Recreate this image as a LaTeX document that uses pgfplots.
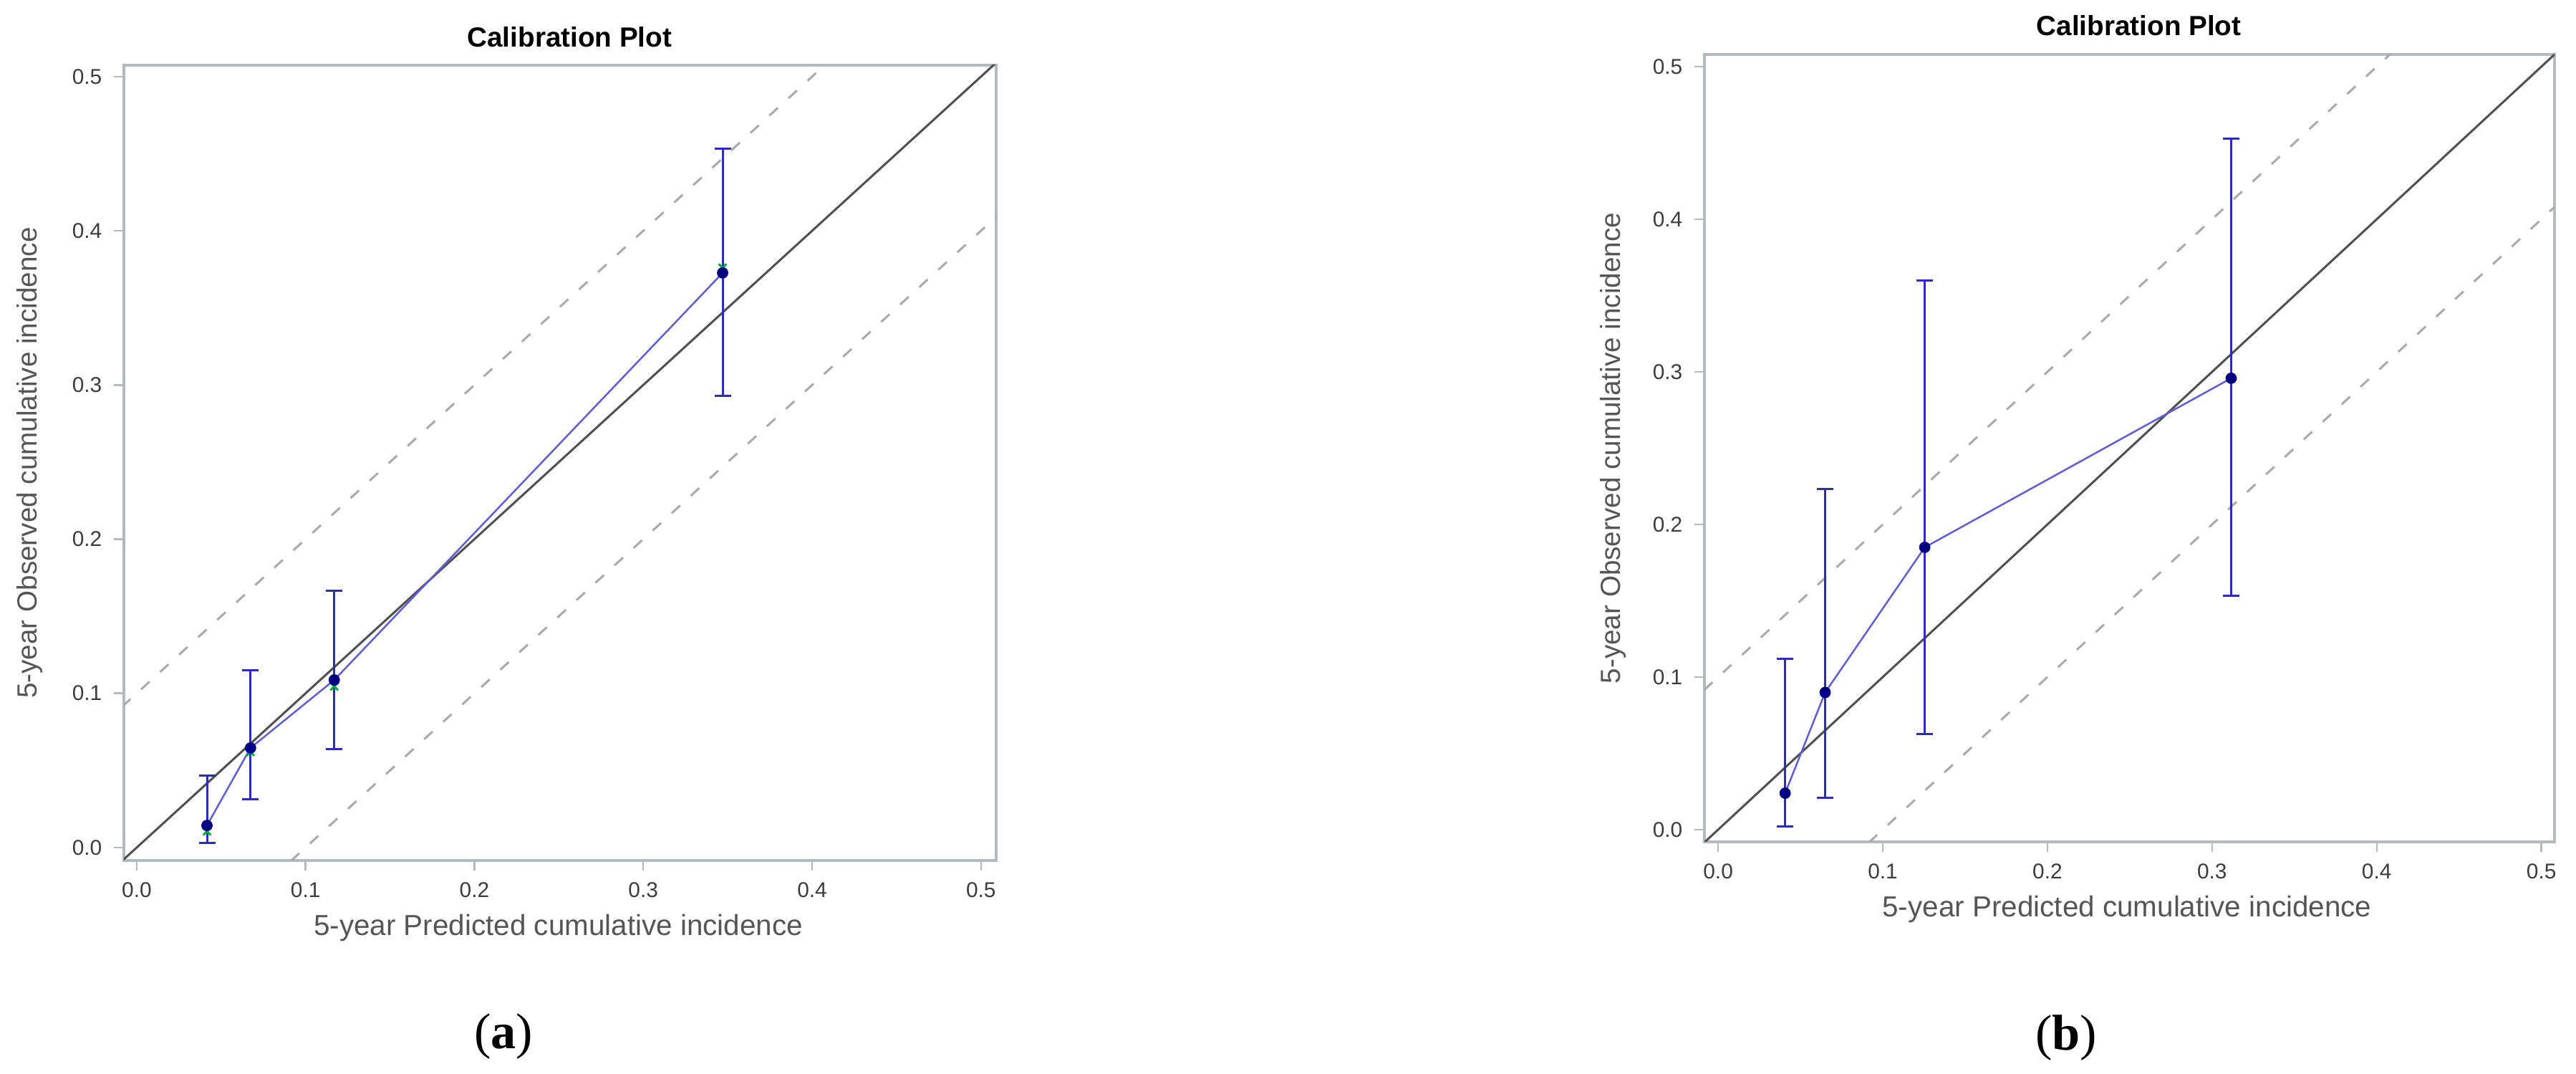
\documentclass[border=0pt]{standalone}
\usepackage{fontspec}
\setmainfont{Liberation Sans}
\newfontfamily\capfont{Liberation Serif}
\usepackage{pgfplots}
\pgfplotsset{compat=1.18}

\definecolor{framegray}{RGB}{178,186,192}
\definecolor{ticktext}{RGB}{60,60,60}
\definecolor{labeltext}{RGB}{85,85,85}
\definecolor{diaggray}{RGB}{80,80,80}
\definecolor{dashgray}{RGB}{170,170,170}
\definecolor{fitblue}{RGB}{95,95,210}
\definecolor{barblue}{RGB}{45,45,175}
\definecolor{dotnavy}{RGB}{0,0,128}
\definecolor{obsgreen}{RGB}{0,170,60}

\pgfplotsset{
  calib/.style={
    scale only axis,
    anchor=south west,
    axis line style={framegray, line width=0.33mm},
    tick align=outside,
    tick pos=left,
    major tick length=1.4mm,
    major tick style={framegray, line width=0.25mm},
    xtick={0,0.1,0.2,0.3,0.4,0.5},
    ytick={0,0.1,0.2,0.3,0.4,0.5},
    xticklabels={0.0,0.1,0.2,0.3,0.4,0.5},
    yticklabels={0.0,0.1,0.2,0.3,0.4,0.5},
    tick label style={font=\fontsize{8.5}{10}\selectfont, text=ticktext, inner sep=0pt},
    xticklabel style={anchor=north, yshift=-1.6mm},
    yticklabel style={anchor=east, xshift=-1.6mm},
    every axis title/.style={at={(0.5,1)}, anchor=center, inner sep=0pt,
      font=\bfseries\fontsize{11}{13}\selectfont},
    title={Calibration Plot},
    xlabel={5-year Predicted cumulative incidence},
    ylabel={5-year Observed cumulative incidence},
    label style={text=labeltext, inner sep=0pt, anchor=center},
    xlabel style={font=\fontsize{11.5}{13}\selectfont},
    ylabel style={font=\fontsize{11}{13}\selectfont},
    clip=true,
  },
  diag/.style={diaggray, line width=0.3mm, mark=none},
  band/.style={dashgray, line width=0.3mm, dash pattern=on 1.6mm off 2.0mm, mark=none},
  fit/.style={fitblue, line width=0.25mm, mark=none},
  obs/.style={obsgreen, only marks, mark=x, mark size=0.75mm, line width=0.3mm},
  pts/.style={dotnavy, only marks, mark=*, mark size=0.72mm,
    error bars/.cd, y dir=both, y explicit, error mark=|,
    error bar style={barblue, line width=0.3mm},
    error mark options={barblue, mark size=1.15mm, line width=0.3mm}},
}

\begin{document}
\begin{tikzpicture}
\path[use as bounding box] (0,0) rectangle (359.7mm,149.9mm);

% (a)
\begin{axis}[calib,
  at={(17.3mm,29.8mm)},
  width=121.8mm, height=111.0mm,
  xmin=-0.0076, xmax=0.509, ymin=-0.0084, ymax=0.5074,
  title style={at={(0.511,1.0351)}},
  xlabel style={at={(0.498,-0.0847)}},
  ylabel style={at={(-0.1076,0.5)}},
]
\addplot[band] coordinates {(-0.02,0.08) (0.43,0.53)};
\addplot[band] coordinates {(0.08,-0.02) (0.53,0.43)};
\addplot[diag] coordinates {(-0.02,-0.02) (0.53,0.53)};
\addplot[fit] coordinates {(0.0416,0.0143) (0.0674,0.0646) (0.1170,0.1087) (0.3470,0.3727)};
\addplot[obs] coordinates {(0.0416,0.0105) (0.0674,0.0620) (0.1170,0.1045) (0.3470,0.3760)};
\addplot[pts] coordinates {
  (0.0416,0.0143) += (0,0.0322) -= (0,0.0113)
  (0.0674,0.0646) += (0,0.0502) -= (0,0.0335)
  (0.1170,0.1087) += (0,0.0577) -= (0,0.0450)
  (0.3470,0.3727) += (0,0.0805) -= (0,0.0798)
};
\end{axis}

% (b)
\begin{axis}[calib,
  at={(238.0mm,32.4mm)},
  width=118.7mm, height=109.9mm,
  xmin=-0.0083, xmax=0.508, ymin=-0.008, ymax=0.508,
  title style={at={(0.511,1.0364)}},
  xlabel style={at={(0.497,-0.0855)}},
  ylabel style={at={(-0.1078,0.5)}},
]
\addplot[band] coordinates {(-0.02,0.08) (0.43,0.53)};
\addplot[band] coordinates {(0.08,-0.02) (0.53,0.43)};
\addplot[diag] coordinates {(-0.02,-0.02) (0.53,0.53)};
\addplot[fit] coordinates {(0.0407,0.0239) (0.0650,0.0899) (0.1255,0.1850) (0.3116,0.2958)};
\addplot[pts] coordinates {
  (0.0407,0.0239) += (0,0.0881) -= (0,0.0216)
  (0.0650,0.0899) += (0,0.1331) -= (0,0.0692)
  (0.1255,0.1850) += (0,0.1750) -= (0,0.1224)
  (0.3116,0.2958) += (0,0.1569) -= (0,0.1423)
};
\end{axis}

\node[font=\capfont\fontsize{20}{24}\selectfont, inner sep=0pt] at (70.3mm,5.2mm) {(\textbf{a})};
\node[font=\capfont\fontsize{20}{24}\selectfont, inner sep=0pt] at (288.5mm,5.0mm) {(\textbf{b})};
\end{tikzpicture}
\end{document}
